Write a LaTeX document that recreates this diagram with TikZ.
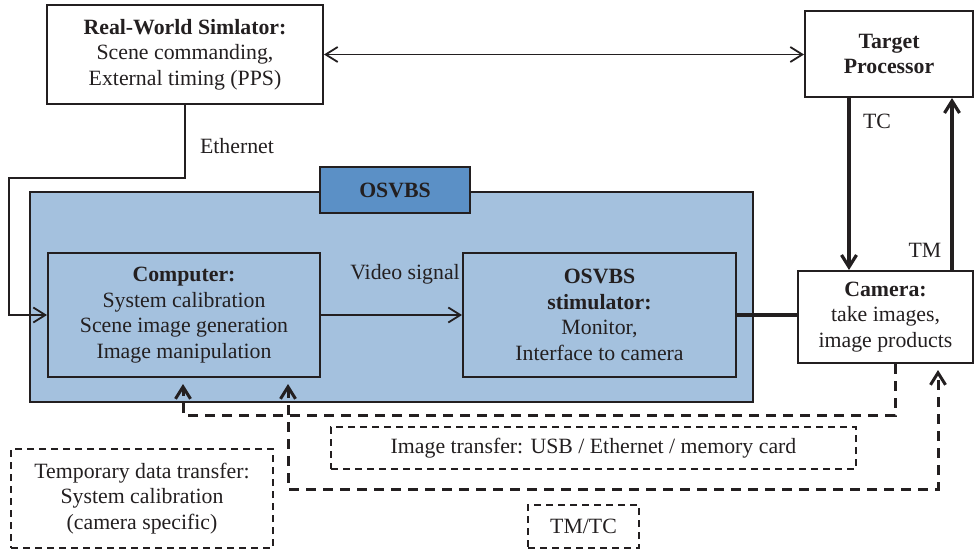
\documentclass[tikz,border=0pt]{standalone}
\usepackage{fontspec}
\setmainfont{Liberation Serif}
\usetikzlibrary{arrows.meta}
\definecolor{osvbsfill}{HTML}{A4C1DE}
\definecolor{osvbshead}{HTML}{5B90C6}
\definecolor{ink}{HTML}{231F20}
\begin{document}
\begin{tikzpicture}[x=0.5pt,y=-0.5pt,
                >={Straight Barb[length=6pt,width=7.5pt]},
                every node/.style={font=\fontsize{10.9}{12.75}\selectfont, text=ink, align=center},
                block/.style={draw=ink, line width=1pt, inner sep=0pt},
                dbox/.style={draw=ink, dash pattern=on 3.5pt off 2.5pt, inner sep=0pt},
                link/.style={draw=ink, line width=0.9pt},
                heavy/.style={draw=ink, line width=1.6pt},
                dlink/.style={draw=ink, line width=1.5pt, dash pattern=on 5pt off 3.5pt, shorten >=3pt}]
                \useasboundingbox (0,0) rectangle (974,551);

                \node[block, minimum width=138pt, minimum height=49.5pt] (rws) at (185,54.5) {\textbf{Real-World Simlator:}\\Scene commanding,\\External timing (PPS)};
                \node[block, minimum width=84pt, minimum height=43pt] (tp) at (889,54) {\textbf{Target}\\\textbf{Processor}};

                \node[block, fill=osvbsfill, minimum width=361.5pt, minimum height=105pt] (osvbs) at (391.5,297) {};
                \node[block, fill=osvbshead, minimum width=75pt, minimum height=23pt] (head) at (395,190) {\textbf{OSVBS}};
                \node[block, minimum width=136pt, minimum height=62pt] (comp) at (184,315) {\textbf{Computer:}\\System calibration\\Scene image generation\\Image manipulation};
                \node[block, minimum width=136.5pt, minimum height=62pt] (stim) at (599.5,315) {\textbf{OSVBS}\\\textbf{stimulator:}\\Monitor,\\Interface to camera};
                \node[block, minimum width=87.5pt, minimum height=46pt] (cam) at (885.5,317) {\textbf{Camera:}\\take images,\\image products};

                \node[dbox, line width=0.7pt, minimum width=262.5pt, minimum height=21pt] (imgtr) at (593.5,448) {Image transfer: USB / Ethernet / memory card};
                \node[dbox, line width=1.4pt, minimum width=131pt, minimum height=49.5pt] (temp) at (142,498.5) {Temporary data transfer:\\System calibration\\(camera specific)};
                \node[dbox, line width=1pt, minimum width=55.5pt, minimum height=21.5pt] (tmtc) at (583.5,526.5) {TM/TC};

                \node[] (ethlbl) at (237,146) {Ethernet};
                \node[] (vidlbl) at (405,274) {Video signal};
                \node[] (tclbl) at (877,121) {TC};
                \node[] (tmlbl) at (925,250) {TM};

                \draw[link, <->] (rws.east) -- (rws.east -| tp.west);
                \coordinate (ethbend) at (9,178);
                \draw[link, ->] (rws.south) |- (ethbend) |- (comp.west);
                \draw[link, ->] (comp.east) -- (stim.west);
                \draw[heavy] (stim.east) -- (stim.east -| cam.west);

                \coordinate (tcx) at (849,0);
                \coordinate (tmx) at (952,0);
                \draw[heavy, ->] (tcx |- tp.south) -- (tcx |- cam.north);
                \draw[heavy, ->] (tmx |- cam.north) -- (tmx |- tp.south);

                \coordinate (imgout) at (895,415);
                \coordinate (imgin) at (183,415);
                \draw[dlink, ->] (imgout |- cam.south) -- (imgout) -- (imgin) -- (imgin |- comp.south);
                \coordinate (tmtcl) at (288,489);
                \coordinate (tmtcr) at (938,489);
                \draw[dlink, <->, shorten <=3pt] (tmtcl |- comp.south) -- (tmtcl) -- (tmtcr) -- (tmtcr |- cam.south);
            \end{tikzpicture}
\end{document}
